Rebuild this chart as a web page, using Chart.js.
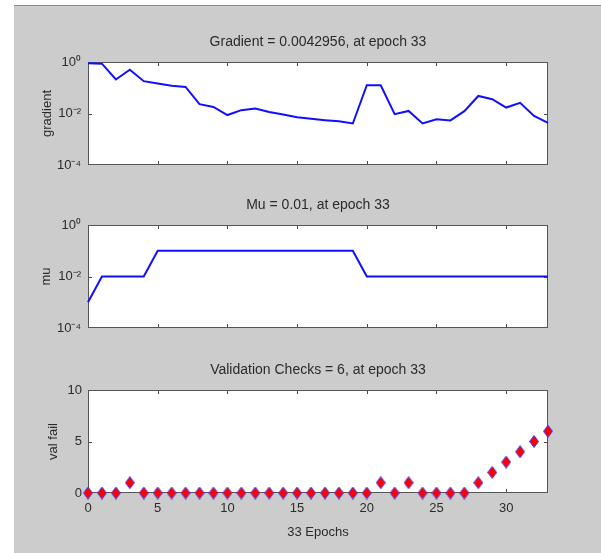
<!DOCTYPE html>
<html>
<head>
<meta charset="utf-8">
<script src="https://cdn.jsdelivr.net/npm/chart.js@4.4.1/dist/chart.umd.min.js"></script>
<style>
  html, body { margin: 0; padding: 0; background: #fff; overflow: hidden; }
  #panel { position: absolute; left: 14px; top: 5px; width: 587px; height: 548px; background: #cccccc; border-top: 1px solid #8a8a8a; }
  .box { position: absolute; left: 14px; width: 587px; }
</style>
</head>
<body>
<div id="panel"></div>
<div class="box" style="top:20px;height:150px"><canvas id="gradient-chart"></canvas></div>
<div class="box" style="top:185px;height:150px"><canvas id="mu-chart"></canvas></div>
<div class="box" style="top:350px;height:200px"><canvas id="valfail-chart"></canvas></div>
<script>
const epochs = [0, 1, 2, 3, 4, 5, 6, 7, 8, 9, 10, 11, 12, 13, 14, 15, 16, 17, 18, 19, 20, 21, 22, 23, 24, 25, 26, 27, 28, 29, 30, 31, 32, 33];
const gradient = [0.9, 0.86, 0.21, 0.5, 0.18, 0.145, 0.12, 0.107, 0.023, 0.018, 0.0087, 0.0135, 0.0155, 0.0115, 0.0091, 0.0071, 0.0062, 0.0055, 0.005, 0.0041, 0.125, 0.125, 0.0094, 0.0126, 0.0041, 0.006, 0.0054, 0.0123, 0.048, 0.036, 0.017, 0.026, 0.0081, 0.0043];
const mu = [0.001, 0.01, 0.01, 0.01, 0.01, 0.1, 0.1, 0.1, 0.1, 0.1, 0.1, 0.1, 0.1, 0.1, 0.1, 0.1, 0.1, 0.1, 0.1, 0.1, 0.01, 0.01, 0.01, 0.01, 0.01, 0.01, 0.01, 0.01, 0.01, 0.01, 0.01, 0.01, 0.01, 0.01];
const valFail = [0, 0, 0, 1, 0, 0, 0, 0, 0, 0, 0, 0, 0, 0, 0, 0, 0, 0, 0, 0, 0, 1, 0, 1, 0, 0, 0, 0, 1, 2, 3, 4, 5, 6];

const xTicks = [0, 5, 10, 15, 20, 25, 30];
const logTicks = [0.0001, 0.01, 1];
const logTickLabels = ['10⁻⁴', '10⁻²', '10⁰'];
const valTicks = [0, 5, 10];

const titles = ['Gradient = 0.0042956, at epoch 33', 'Mu = 0.01, at epoch 33', 'Validation Checks = 6, at epoch 33'];

const textColor = '#2b2b2b';
const fontFamily = '"Liberation Sans", Arial, sans-serif';
Chart.defaults.font.family = fontFamily;
Chart.defaults.font.size = 13;
Chart.defaults.color = textColor;
Chart.defaults.animation = false;

// red diamond with blue edge, like matlab's 'rd' marker
function diamond() {
    const c = document.createElement('canvas');
    c.width = 10; c.height = 13;
    const g = c.getContext('2d');
    g.beginPath();
    g.moveTo(5, 0.5); g.lineTo(9.5, 6.5); g.lineTo(5, 12.5); g.lineTo(0.5, 6.5);
    g.closePath();
    g.fillStyle = '#ff0000';
    g.fill();
    g.strokeStyle = '#3a3aff';
    g.lineWidth = 1;
    g.stroke();
    return c;
}

// white axes box, inward tick marks and the title above it
const matlabAxes = {
    id: 'matlabAxes',
    beforeDraw(chart) {
        const a = chart.chartArea, ctx = chart.ctx;
        ctx.save();
        ctx.fillStyle = '#ffffff';
        ctx.fillRect(a.left, a.top, a.right - a.left, a.bottom - a.top);
        ctx.restore();
    },
    beforeDatasetsDraw(chart) {
        const a = chart.chartArea, ctx = chart.ctx;
        const xs = chart.scales.x, ys = chart.scales.y;
        ctx.save();
        ctx.strokeStyle = '#4a4a4a';
        ctx.lineWidth = 1;
        ctx.beginPath();
        xs.ticks.forEach(t => {
            if (t.value <= xs.min || t.value >= xs.max) return;
            const px = Math.round(xs.getPixelForValue(t.value)) + 0.5;
            ctx.moveTo(px, a.bottom); ctx.lineTo(px, a.bottom - 4);
            ctx.moveTo(px, a.top); ctx.lineTo(px, a.top + 4);
        });
        ys.ticks.forEach(t => {
            if (t.value <= ys.min || t.value >= ys.max) return;
            const py = Math.round(ys.getPixelForValue(t.value)) + 0.5;
            ctx.moveTo(a.left, py); ctx.lineTo(a.left + 4, py);
            ctx.moveTo(a.right, py); ctx.lineTo(a.right - 4, py);
        });
        ctx.stroke();
        ctx.strokeStyle = '#555555';
        ctx.strokeRect(a.left + 0.5, a.top + 0.5, a.right - a.left - 1, a.bottom - a.top - 1);
        ctx.restore();
    },
    afterDraw(chart) {
        const a = chart.chartArea, ctx = chart.ctx;
        ctx.save();
        ctx.font = '14px ' + fontFamily;
        ctx.fillStyle = textColor;
        ctx.textAlign = 'center';
        ctx.textBaseline = 'middle';
        ctx.fillText(chart.options.plugins.matlabAxes.text, (a.left + a.right) / 2, a.top - 20);
        ctx.restore();
    }
};

function xScale(showLabels, height) {
    return {
        type: 'linear',
        min: 0,
        max: 33,
        afterBuildTicks: s => { s.ticks = xTicks.map(v => ({ value: v })); },
        afterFit: s => { s.height = height; s.paddingLeft = 0; s.paddingRight = 0; },
        grid: { display: false, drawTicks: false },
        border: { display: false },
        ticks: { display: showLabels, padding: 8, maxRotation: 0, autoSkip: false },
        title: { display: showLabels, text: '33 Epochs', padding: { top: 0, bottom: 10 } }
    };
}

function logScale(label, titlePad) {
    return {
        type: 'logarithmic',
        min: 0.0001,
        max: 1,
        afterBuildTicks: s => { s.ticks = logTicks.map(v => ({ value: v })); },
        afterFit: s => { s.width = 74; s.paddingTop = 0; s.paddingBottom = 0; },
        grid: { display: false, drawTicks: false },
        border: { display: false },
        ticks: { padding: 7, callback: v => logTickLabels[logTicks.indexOf(v)] },
        title: { display: true, text: label, padding: { top: titlePad, bottom: 0 } }
    };
}

new Chart(document.getElementById('gradient-chart'), {
    type: 'line',
    data: {
        labels: epochs,
        datasets: [{
            data: gradient,
            borderColor: '#1010ff',
            borderWidth: 2,
            pointRadius: 0,
            tension: 0,
            clip: false
        }]
    },
    options: {
        responsive: true,
        maintainAspectRatio: false,
        layout: { padding: { top: 42, right: 53, bottom: 0, left: 0 } },
        plugins: { legend: { display: false }, tooltip: { enabled: false }, matlabAxes: { text: titles[0] } },
        scales: { x: xScale(false, 5), y: logScale('gradient', 26) }
    },
    plugins: [matlabAxes]
});

new Chart(document.getElementById('mu-chart'), {
    type: 'line',
    data: {
        labels: epochs,
        datasets: [{
            data: mu,
            borderColor: '#1010ff',
            borderWidth: 2,
            pointRadius: 0,
            tension: 0,
            clip: false
        }]
    },
    options: {
        responsive: true,
        maintainAspectRatio: false,
        layout: { padding: { top: 40, right: 53, bottom: 0, left: 0 } },
        plugins: { legend: { display: false }, tooltip: { enabled: false }, matlabAxes: { text: titles[1] } },
        scales: { x: xScale(false, 7), y: logScale('mu', 25) }
    },
    plugins: [matlabAxes]
});

new Chart(document.getElementById('valfail-chart'), {
    type: 'line',
    data: {
        labels: epochs,
        datasets: [{
            data: valFail,
            showLine: false,
            pointStyle: diamond(),
            pointRadius: 5,
            clip: false
        }]
    },
    options: {
        responsive: true,
        maintainAspectRatio: false,
        layout: { padding: { top: 40, right: 53, bottom: 0, left: 0 } },
        plugins: { legend: { display: false }, tooltip: { enabled: false }, matlabAxes: { text: titles[2] } },
        scales: {
            x: xScale(true, 57),
            y: {
                type: 'linear',
                min: 0,
                max: 10,
                afterBuildTicks: s => { s.ticks = valTicks.map(v => ({ value: v })); },
                afterFit: s => { s.width = 74; s.paddingTop = 0; s.paddingBottom = 0; },
                grid: { display: false, drawTicks: false },
                border: { display: false },
                ticks: { padding: 6 },
                title: { display: true, text: 'val fail', padding: { top: 32, bottom: 0 } }
            }
        }
    },
    plugins: [matlabAxes]
});
</script>
</body>
</html>
